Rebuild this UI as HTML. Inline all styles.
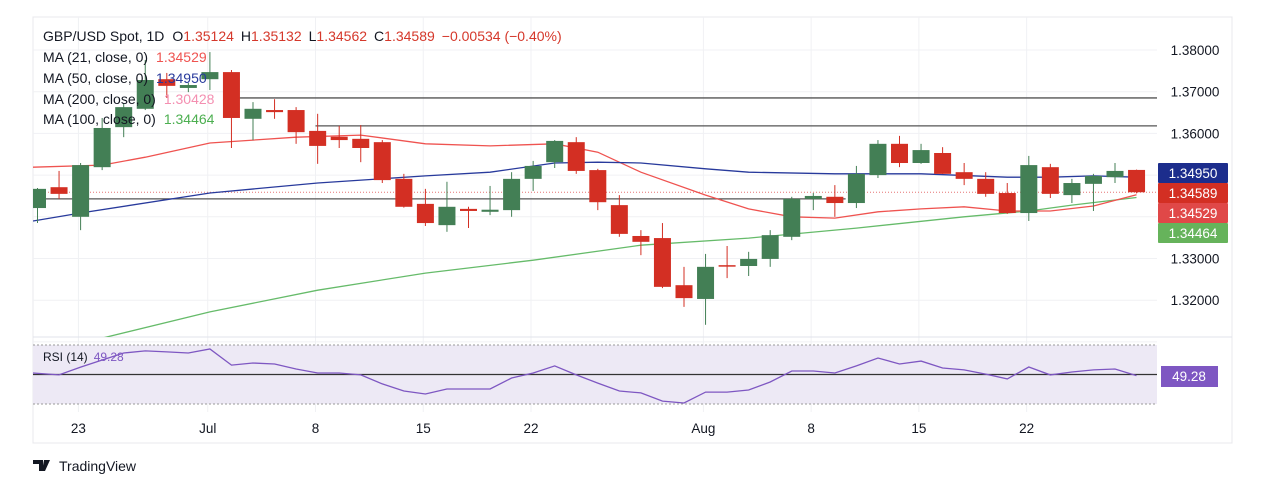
<!DOCTYPE html>
<html><head><meta charset="utf-8">
<style>
html,body{margin:0;padding:0;background:#fff;}
svg{display:block;font-family:"Liberation Sans",sans-serif;}
</style></head>
<body>
<svg id="chart" width="1270" height="480" viewBox="0 0 1270 480" xmlns="http://www.w3.org/2000/svg">
<rect x="0" y="0" width="1270" height="480" fill="#fff"/>
<rect x="33" y="17" width="1199" height="426" fill="none" stroke="#e8e8ec"/>
<g id="grid"></g>
<g id="hlines"></g>
<g id="mas"></g>
<g id="candles"></g>
<g id="rsi"></g>
<g id="axis"></g>
<g id="legend" font-size="14">
<text x="43" y="41" fill="#131722"><tspan>GBP/USD Spot, 1D</tspan><tspan dx="8">O</tspan><tspan fill="#d5382b">1.35124</tspan><tspan dx="7">H</tspan><tspan fill="#d5382b">1.35132</tspan><tspan dx="7">L</tspan><tspan fill="#d5382b">1.34562</tspan><tspan dx="7">C</tspan><tspan fill="#d5382b">1.34589</tspan><tspan dx="7" fill="#d5382b">−0.00534 (−0.40%)</tspan></text>
<text x="43" y="62" fill="#131722">MA (21, close, 0)<tspan dx="8" fill="#ef5350">1.34529</tspan></text>
<text x="43" y="83" fill="#131722">MA (50, close, 0)<tspan dx="8" fill="#283a9c">1.34950</tspan></text>
<text x="43" y="104" fill="#131722">MA (200, close, 0)<tspan dx="8" fill="#f48fb1">1.30428</tspan></text>
<text x="43" y="124" fill="#131722">MA (100, close, 0)<tspan dx="8" fill="#4caf50">1.34464</tspan></text>
</g>
<text x="43" y="361" font-size="12" fill="#131722">RSI (14)<tspan dx="6" fill="#7e57c2">49.28</tspan></text>
<g>
<path d="M33 460h10v11h-4v-7h-6z M44 460h6l-5 11h-3z" fill="#131722"/>
<text x="59" y="471" font-size="14" fill="#131722">TradingView</text>
</g>
</svg>
<script>
const opens=[1.3421,1.3471,1.3400,1.3519,1.3615,1.3659,1.3730,1.3709,1.3730,1.3747,1.3635,1.3656,1.3656,1.3606,1.3592,1.3587,1.3579,1.3491,1.3431,1.3380,1.3419,1.3412,1.3416,1.3491,1.3531,1.3579,1.3512,1.3428,1.3354,1.3349,1.3236,1.3203,1.3284,1.3282,1.3299,1.3352,1.3443,1.3448,1.3433,1.3500,1.3575,1.3529,1.3553,1.3507,1.3491,1.3457,1.3409,1.3519,1.3452,1.3479,1.3495,1.35124];
const highs=[1.3469,1.3510,1.3529,1.3637,1.3673,1.3776,1.3745,1.3721,1.3795,1.3752,1.3675,1.3682,1.3663,1.3647,1.3618,1.3620,1.3584,1.3503,1.3467,1.3484,1.3424,1.3474,1.3507,1.3534,1.3584,1.3591,1.3515,1.3452,1.3368,1.3385,1.3280,1.3311,1.3330,1.3316,1.3368,1.3448,1.3457,1.3476,1.3522,1.3584,1.3594,1.3575,1.3567,1.3529,1.3507,1.3481,1.3546,1.3527,1.3491,1.3503,1.3529,1.35132];
const lows=[1.3385,1.3443,1.3368,1.3512,1.3591,1.3656,1.3685,1.3699,1.3704,1.3565,1.3584,1.3635,1.3575,1.3527,1.3565,1.3531,1.3481,1.3422,1.3378,1.3364,1.3373,1.3404,1.3400,1.3462,1.3517,1.3503,1.3416,1.3352,1.3308,1.3229,1.3184,1.3141,1.3253,1.3258,1.3280,1.3344,1.3416,1.3400,1.3421,1.3493,1.3519,1.3527,1.3503,1.3476,1.3448,1.3407,1.3390,1.3445,1.3433,1.3414,1.3481,1.34562];
const closes=[1.3467,1.3455,1.3524,1.3613,1.3663,1.3728,1.3714,1.3716,1.3747,1.3637,1.3659,1.3651,1.3603,1.3570,1.3584,1.3565,1.3488,1.3424,1.3385,1.3424,1.3414,1.3417,1.3491,1.3522,1.3582,1.3510,1.3435,1.3359,1.3340,1.3232,1.3205,1.3280,1.3282,1.3299,1.3356,1.3443,1.3450,1.3433,1.3503,1.3575,1.3529,1.3560,1.3503,1.3491,1.3455,1.3409,1.3524,1.3455,1.3481,1.3498,1.3510,1.34589];
const ma21Idx=[0,3,5,8,12,15,18,21,24,26,28,31,33,35,37,39,41,43,45,47,49,51];
const ma21Val=[1.3519,1.3524,1.3543,1.3577,1.3591,1.3596,1.3575,1.3570,1.3575,1.3555,1.3507,1.3452,1.3419,1.3400,1.3397,1.3412,1.3419,1.3424,1.3414,1.3414,1.3426,1.34529];
const ma50Idx=[0,2,8,13,18,21,24,26,28,31,33,37,41,45,47,49,51];
const ma50Val=[1.3390,1.3409,1.3457,1.3481,1.3498,1.3507,1.3529,1.3531,1.3529,1.3515,1.3507,1.3503,1.3503,1.3495,1.3495,1.3498,1.3495];
const ma100Idx=[0,3,8,13,18,23,28,33,38,43,46,48,51];
const ma100Val=[1.3080,1.3109,1.3172,1.3224,1.3265,1.3296,1.3332,1.3349,1.3373,1.3400,1.3414,1.3428,1.34464];
const rsiVals=[51,49.7,55,59.8,64.6,66,65.3,64.6,67.3,56.4,57.8,57.1,53.7,51,51,49.7,43.6,38.8,36.8,40.2,40.2,40.2,47.6,51,55.8,49.7,44.2,38.8,37.5,32,30.7,38.1,38.1,39.5,44.9,52.4,52.4,51,55.8,61.2,57.1,59.1,54.4,53.1,50.3,47,55.1,49.7,51.7,53.1,53.7,49.28];
const priceTicks=[1.38,1.37,1.36,1.35,1.34,1.33,1.32,1.31];
const priceTickLabels=["1.38000","1.37000","1.36000","","","1.33000","1.32000",""];
const dateLabels=["23","Jul","8","15","22","Aug","8","15","22"];
const dateIdx=[1.9,7.9,12.9,17.9,22.9,30.9,35.9,40.9,45.9];
const levelVals=[1.3685,1.3618,1.3443];
const levelStart=[9.3,12.9,-0.2];
const levelEnd=[52.5,52.5,37.5];

const NS="http://www.w3.org/2000/svg";
const PL=33,PR=1157,PT=17,PB=337;
const xOf=i=>37.5+i*21.55;
const yOf=p=>50+(1.38-p)*4170;
const rY=r=>374.5-(r-50)*1.475;
function mk(tag,attrs,parent){const e=document.createElementNS(NS,tag);for(const k in attrs)e.setAttribute(k,attrs[k]);parent.appendChild(e);return e;}
const svg=document.getElementById('chart');
const defs=mk('defs',{},svg);
const cp=mk('clipPath',{id:'pc'},defs);mk('rect',{x:PL,y:PT,width:PR-PL,height:PB-PT},cp);

const grid=document.getElementById('grid');
priceTicks.forEach(p=>{const l=mk('line',{x1:PL,x2:PR,y1:yOf(p),y2:yOf(p),stroke:'#f0f1f4'},grid);

});
dateIdx.forEach(i=>{const l=mk('line',{x1:xOf(i),x2:xOf(i),y1:PT,y2:412,stroke:'#f0f1f4'},grid);

});
mk('line',{x1:PL,x2:1232,y1:PB,y2:PB,stroke:'#e0e3eb'},grid);

const hl=document.getElementById('hlines');
levelVals.forEach((v,k)=>{const l=mk('line',{x1:Math.max(PL,xOf(levelStart[k])),x2:Math.min(PR,xOf(levelEnd[k])),y1:yOf(v),y2:yOf(v),stroke:'#555',"stroke-width":1.3},hl);

});
const cl=closes[closes.length-1];
const pl=mk('line',{x1:PL,x2:PR,y1:yOf(cl),y2:yOf(cl),stroke:'#e57373',"stroke-dasharray":"1 2"},hl);



const mas=document.getElementById('mas');mas.setAttribute('clip-path','url(#pc)');
function maLine(idx,val,color,name){const pts=idx.map((i,k)=>(i===0?PL:xOf(i)).toFixed(1)+','+yOf(val[k]).toFixed(1)).join(' ');
const e=mk('polyline',{points:pts,fill:'none',stroke:color,"stroke-width":1.3},mas);

}
maLine(ma100Idx,ma100Val,'#66bb6a','ma100-line');
maLine(ma21Idx,ma21Val,'#ef5350','ma21-line');
maLine(ma50Idx,ma50Val,'#283a9c','ma50-line');

const cg=document.getElementById('candles');cg.setAttribute('clip-path','url(#pc)');
opens.forEach((o,i)=>{const c=closes[i];const up=c>=o;const col=up?'#437f55':'#d32f23';const x=xOf(i);
const g=mk('g',{},cg);


mk('line',{x1:x,x2:x,y1:yOf(highs[i]),y2:yOf(lows[i]),stroke:col,"stroke-width":1},g);
const yt=yOf(Math.max(o,c)),yb=yOf(Math.min(o,c));
mk('rect',{x:x-8.5,y:yt,width:17,height:Math.max(1.5,yb-yt),fill:col},g);});

const rg=document.getElementById('rsi');
const band=mk('rect',{x:PL,y:rY(70),width:PR-PL,height:rY(30)-rY(70),fill:'#ede9f5'},rg);


mk('line',{x1:PL,x2:PR,y1:rY(70),y2:rY(70),stroke:'#999',"stroke-dasharray":"2 2"},rg);
mk('line',{x1:PL,x2:PR,y1:rY(30),y2:rY(30),stroke:'#999',"stroke-dasharray":"2 2"},rg);
mk('line',{x1:PL,x2:PR,y1:rY(50),y2:rY(50),stroke:'#333',"stroke-width":1.2},rg);
const rl=mk('polyline',{points:rsiVals.map((r,i)=>(i===0?PL:xOf(i)).toFixed(1)+','+rY(r).toFixed(1)).join(' '),fill:'none',stroke:'#7e57c2',"stroke-width":1.3},rg);



const ax=document.getElementById('axis');
priceTicks.forEach((p,k)=>{if(!priceTickLabels[k])return;const t=mk('text',{x:1195,y:yOf(p)+5,"font-size":13.5,"text-anchor":"middle",fill:'#131722'},ax);t.textContent=priceTickLabels[k];

});
dateLabels.forEach((d,k)=>{const t=mk('text',{x:xOf(dateIdx[k]),y:433,"font-size":13.5,"text-anchor":"middle",fill:'#131722'},ax);t.textContent=d;

});
const badges=[["1.34950",'#1c2d8c',163],["1.34589",'#d32f23',183],["1.34529",'#e04848',203],["1.34464",'#66b35b',223]];
badges.forEach(b=>{const g=mk('g',{},ax);


mk('rect',{x:1158,y:b[2],width:70,height:20,fill:b[1],rx:1},g);
const t=mk('text',{x:1193,y:b[2]+15,"font-size":13.5,"text-anchor":"middle",fill:'#fff'},g);t.textContent=b[0];});
const rb=mk('g',{},ax);


mk('rect',{x:1161,y:366,width:57,height:21,fill:'#7e57c2'},rb);
const rt=mk('text',{x:1189,y:381,"font-size":13.5,"text-anchor":"middle",fill:'#fff'},rb);rt.textContent="49.28";
</script>
</body></html>
